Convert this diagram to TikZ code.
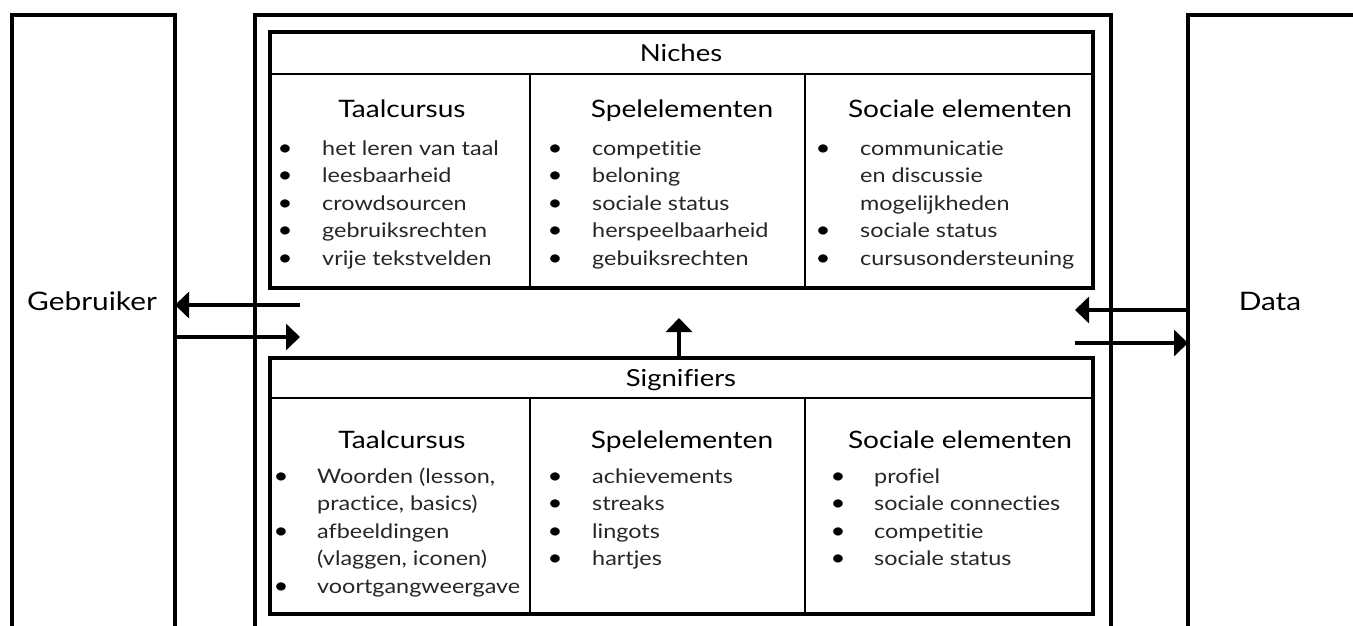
\documentclass[tikz,border=0pt]{standalone}
\usepackage{fontspec}
\setmainfont{Lato}[FakeStretch=1.17, Ligatures={NoCommon,NoRequired,NoContextual}]
\usetikzlibrary{arrows.meta}
\begin{document}
\begin{tikzpicture}[x=1pt,y=-1pt,
  frame/.style={draw=black, line width=4pt, fill=none},
  thin/.style={draw=black, line width=2pt},
  arr/.style={line width=4pt, -{Triangle[length=14pt,width=26pt]}},
  item/.style={anchor=base west, font=\fontsize{20}{24}\selectfont, text=black!85, inner sep=0pt},
  bul/.style={anchor=base, font=\fontsize{22}{24}\selectfont, text=black, inner sep=0pt},
  head/.style={anchor=base, font=\fontsize{24}{28}\selectfont, inner sep=0pt},
  title/.style={anchor=base, font=\fontsize{23.5}{26}\selectfont, inner sep=0pt},
  side/.style={anchor=base, font=\fontsize{25.5}{28}\selectfont, inner sep=0pt},
]
\useasboundingbox (0,0) rectangle (1353,625);
\clip (0,0) rectangle (1353,625);
% outer boxes
\draw[frame] (12,15) rectangle (175,660);
\draw[frame] (255,15) rectangle (1111,660);
\draw[frame] (1188,15) rectangle (1360,660);
\node[side] (gebr) at (92,310) {Gebruiker};
\node[side] (data) at (1270,310) {Data};
\coordinate (gebrR1) at (175,305);
\coordinate (gebrR2) at (175,337);
\coordinate (dataL1) at (1188,310);
\coordinate (dataL2) at (1188,343);
% niches box
\draw[frame] (270,32) rectangle (1093,288);
\draw[thin] (270,74) -- (1093,74);
\draw[thin] (530,74) -- (530,288);
\draw[thin] (805,74) -- (805,288);
\node[title] (niches) at (681,61) {Niches};
\coordinate (nichesL) at (300,305);
\coordinate (nichesL2) at (300,337);
\coordinate (nichesR1) at (1075,310);
\coordinate (nichesR2) at (1075,343);
\coordinate (nichesB) at (679,318);
% signifiers box
\draw[frame] (270,358) rectangle (1093,614);
\draw[thin] (270,398) -- (1093,398);
\draw[thin] (530,398) -- (530,614);
\draw[thin] (805,398) -- (805,614);
\node[title] (sign) at (681,386) {Signifiers};
\coordinate (signT) at (679,358);
% arrows
\draw[arr] (nichesL) -- (gebrR1);
\draw[arr] (gebrR2) -- (nichesL2);
\draw[arr] (dataL1) -- (nichesR1);
\draw[arr] (nichesR2) -- (dataL2);
\draw[arr] (signT) -- (nichesB);
% niches columns
\node[head] (nh1) at (402,117) {Taalcursus};
\node[head] (nh2) at (682,117) {Spelelementen};
\node[head] (nh3) at (960,117) {Sociale elementen};
\foreach \t [count=\i] in {het leren van taal, leesbaarheid, crowdsourcen, gebruiksrechten, vrije tekstvelden}{
  \node[item] (n1t\i) at (322,{155+27.5*(\i-1)}) {\t};
  \node[bul] (n1b\i) at (285,{155+27.5*(\i-1)}) {•};
}
\foreach \t [count=\i] in {competitie, beloning, sociale status, herspeelbaarheid, gebuiksrechten}{
  \node[item] (n2t\i) at (592,{155+27.5*(\i-1)}) {\t};
  \node[bul] (n2b\i) at (555,{155+27.5*(\i-1)}) {•};
}
\foreach \t [count=\i] in {communicatie, en discussie, mogelijkheden, sociale status, cursusondersteuning}{
  \node[item] (n3t\i) at (860,{155+27.5*(\i-1)}) {\t};
}
\foreach \i in {1,4,5}{
  \node[bul] (n3b\i) at (823,{155+27.5*(\i-1)}) {•};
}
% signifiers columns
\node[head] (sh1) at (402,448) {Taalcursus};
\node[head] (sh2) at (682,448) {Spelelementen};
\node[head] (sh3) at (960,448) {Sociale elementen};
\foreach \t [count=\i] in {{Woorden (lesson,}, {practice, basics)}, afbeeldingen, {(vlaggen, iconen)}, voortgangweergave}{
  \node[item] (s1t\i) at (317,{483+27.5*(\i-1)}) {\t};
}
\foreach \i in {1,3,5}{
  \node[bul] (s1b\i) at (281,{483+27.5*(\i-1)}) {•};
}
\foreach \t [count=\i] in {achievements, streaks, lingots, hartjes}{
  \node[item] (s2t\i) at (592,{483+27.5*(\i-1)}) {\t};
  \node[bul] (s2b\i) at (555,{483+27.5*(\i-1)}) {•};
}
\foreach \t [count=\i] in {profiel, sociale connecties, competitie, sociale status}{
  \node[item] (s3t\i) at (874,{483+27.5*(\i-1)}) {\t};
  \node[bul] (s3b\i) at (838,{483+27.5*(\i-1)}) {•};
}
\end{tikzpicture}
\end{document}
